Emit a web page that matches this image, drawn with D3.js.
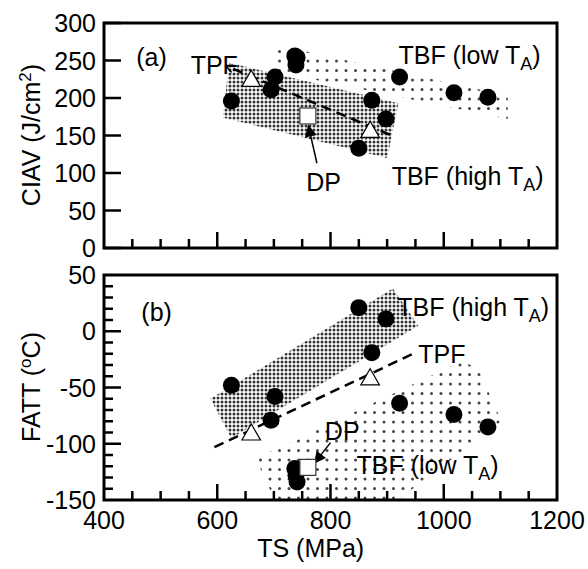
<!DOCTYPE html>
<html>
<head>
<meta charset="utf-8">
<script src="https://cdn.jsdelivr.net/npm/d3@7"></script>
<style>
  body { margin: 0; background: #fff; }
  svg { display: block; font-family: "Liberation Sans", Arial, Helvetica, sans-serif; }
</style>
</head>
<body>
<script>
// data
const ts = [625, 702, 695, 737, 741, 739, 850, 873, 898, 922, 1018, 1078]
const ciav = [196, 228, 211, 256, 254, 244, 133, 197, 172, 228, 207, 201]
const fatt = [-48, -58, -79, -122, -134, -128, 21, -19, 11, -64, -74, -85]

const tsTPF = [660, 870]
const ciavTPF = [224, 156]
const fattTPF = [-91, -42]

const tsDP = [760]
const ciavDP = [176]
const fattDP = [-121]

// shaded bands (TS, value)
const bandHighA = [[621, 247], [920, 193], [900, 120], [610, 174]]
const bandLowA = [[703, 271], [1113, 203], [1113, 172], [703, 235]]
const bandHighB = [[588, -60], [910, 38], [955, 5], [625, -95]]
const bandLowB = [[668, -113], [1030, -27], [1060, -32], [1080, -55], [1102, -80], [880, -165], [715, -165]]

// trend lines
const lineA = [[905, 151], [615, 243]]
const lineB = [[595, -103], [946, -20]]

const xTicks = [400, 600, 800, 1000, 1200]
const yTicksA = [0, 50, 100, 150, 200, 250, 300]
const yTicksB = [-150, -100, -50, 0, 50]

const width = 588
const height = 569
const left = 104, right = 557

const svg = d3.select("body").append("svg")
  .attr("width", width)
  .attr("height", height)

const defs = svg.append("defs")

// dense dot pattern
const pd = defs.append("pattern")
  .attr("id", "dense")
  .attr("patternUnits", "userSpaceOnUse")
  .attr("width", 4).attr("height", 4)
pd.append("rect").attr("width", 4).attr("height", 4).attr("fill", "#fff")
pd.append("circle").attr("cx", 2).attr("cy", 2).attr("r", 1.5).attr("fill", "#333")

// sparse dot pattern
const ps = defs.append("pattern")
  .attr("id", "sparse")
  .attr("patternUnits", "userSpaceOnUse")
  .attr("width", 19).attr("height", 19)
ps.append("circle").attr("cx", 4).attr("cy", 4).attr("r", 1.5).attr("fill", "#444")
ps.append("circle").attr("cx", 13.5).attr("cy", 13.5).attr("r", 1.5).attr("fill", "#444")
ps.append("circle").attr("cx", 13.5).attr("cy", 4).attr("r", 1.5).attr("fill", "#444")
ps.append("circle").attr("cx", 4).attr("cy", 13.5).attr("r", 1.5).attr("fill", "#444")

defs.append("marker")
  .attr("id", "head")
  .attr("viewBox", "0 0 10 10")
  .attr("refX", 9).attr("refY", 5)
  .attr("markerWidth", 14).attr("markerHeight", 12)
  .attr("markerUnits", "userSpaceOnUse")
  .attr("orient", "auto")
  .append("path").attr("d", "M0,0L10,5L0,10Z").attr("fill", "#000")

defs.append("marker")
  .attr("id", "open")
  .attr("viewBox", "0 0 10 10")
  .attr("refX", 10).attr("refY", 5)
  .attr("markerWidth", 8).attr("markerHeight", 8)
  .attr("markerUnits", "userSpaceOnUse")
  .attr("orient", "auto")
  .append("path").attr("d", "M0,0L10,5L0,10").attr("fill", "none")
  .attr("stroke", "#000").attr("stroke-width", 2)

const x = d3.scaleLinear().domain([400, 1200]).range([left, right])

function label(g, tx, ty, parts, anchor) {
  const t = g.append("text")
    .attr("x", tx).attr("y", ty)
    .attr("font-size", 25)
    .attr("text-anchor", anchor || "start")
  parts.forEach(p => {
    const s = t.append("tspan").text(p[0])
    if (p[1] === "sub") s.attr("font-size", 18).attr("dy", 6)
    if (p[1] === "back") s.attr("dy", -6)
    if (p[1] === "sup") s.attr("font-size", 17).attr("dy", -9)
    if (p[1] === "down") s.attr("dy", 9)
  })
  return t
}

function panel(cfg) {
  const y = d3.scaleLinear().domain(cfg.domain).range([cfg.bottom, cfg.top])
  const g = svg.append("g")
  const clipId = "clip" + cfg.name
  defs.append("clipPath").attr("id", clipId)
    .append("rect")
    .attr("x", left).attr("y", cfg.top)
    .attr("width", right - left).attr("height", cfg.bottom - cfg.top)

  const plot = g.append("g").attr("clip-path", `url(#${clipId})`)
  const poly = d3.line().x(d => x(d[0])).y(d => y(d[1])).curve(d3.curveLinearClosed)

  plot.append("path").attr("d", poly(cfg.low)).attr("fill", "url(#sparse)")
  plot.append("path").attr("d", poly(cfg.high)).attr("fill", "url(#dense)")

  // ticks
  const ax = g.append("g").attr("stroke", "#000").attr("stroke-width", 2.5)
  d3.range(450, 1200, 50).forEach(v => {
    const len = (v % 200 === 0) ? 16 : 9
    ax.append("line")
      .attr("x1", x(v)).attr("x2", x(v))
      .attr("y1", cfg.bottom).attr("y2", cfg.bottom - len)
  })
  cfg.minor.forEach(v => {
    const len = cfg.majors.includes(v) ? 17 : 9
    ax.append("line")
      .attr("x1", left).attr("x2", left + len)
      .attr("y1", y(v)).attr("y2", y(v))
  })

  g.append("rect")
    .attr("x", left).attr("y", cfg.top)
    .attr("width", right - left).attr("height", cfg.bottom - cfg.top)
    .attr("fill", "none").attr("stroke", "#000").attr("stroke-width", 3)

  // y tick labels
  g.selectAll(".yl").data(cfg.ticks).join("text")
    .attr("x", 96).attr("y", d => y(d)).attr("dy", "0.36em")
    .attr("text-anchor", "end").attr("font-size", 25)
    .text(d => d)

  // trend line
  plot.append("path")
    .attr("d", d3.line().x(d => x(d[0])).y(d => y(d[1]))(cfg.line))
    .attr("fill", "none").attr("stroke", "#000")
    .attr("stroke-width", 2.5).attr("stroke-dasharray", "10,6")
    .attr("marker-end", cfg.name === "a" ? "url(#open)" : null)

  // DP arrow
  g.append("path")
    .attr("d", d3.line().x(d => x(d[0])).y(d => y(d[1]))(cfg.arrow))
    .attr("stroke", "#000").attr("stroke-width", 1.5).attr("fill", "none")
    .attr("marker-end", "url(#head)")

  // points
  g.selectAll(".c").data(ts).join("circle")
    .attr("cx", d => x(d)).attr("cy", (d, i) => y(cfg.vals[i]))
    .attr("r", 8.5).attr("fill", "#000")

  const tri = d3.symbol().type(d3.symbolTriangle).size(150)
  g.selectAll(".t").data(tsTPF).join("path")
    .attr("transform", (d, i) => `translate(${x(d)},${y(cfg.tpf[i]) + 1})`)
    .attr("d", tri)
    .attr("fill", "#fff").attr("stroke", "#000").attr("stroke-width", 1.2)

  g.selectAll(".s").data(tsDP).join("rect")
    .attr("x", d => x(d) - 8).attr("y", (d, i) => y(cfg.dp[i]) - 8)
    .attr("width", 16).attr("height", 16)
    .attr("fill", "#fff").attr("stroke", "#333").attr("stroke-width", 1.2)

  cfg.labels.forEach(l => label(g, x(l[0]), y(l[1]), l[2]))

  return y
}

panel({
  name: "a", domain: [0, 300], top: 23, bottom: 248,
  ticks: yTicksA, minor: yTicksA, majors: yTicksA,
  vals: ciav, tpf: ciavTPF, dp: ciavDP,
  high: bandHighA, low: bandLowA, line: lineA,
  arrow: [[776, 113], [761, 163]],
  labels: [
    [457, 243, [["(a)"]]],
    [553, 232, [["TPF"]]],
    [920, 245, [["TBF (low T"], ["A", "sub"], [")", "back"]]],
    [908, 84, [["TBF (high T"], ["A", "sub"], [")", "back"]]],
    [757, 76, [["DP"]]]
  ]
})

panel({
  name: "b", domain: [-150, 50], top: 275, bottom: 500,
  ticks: yTicksB, minor: d3.range(-140, 50, 10), majors: [-100, -50, 0],
  vals: fatt, tpf: fattTPF, dp: fattDP,
  high: bandHighB, low: bandLowB, line: lineB,
  arrow: [[800, -99], [772, -117]],
  labels: [
    [466, 9, [["(b)"]]],
    [918, 14, [["TBF (high T"], ["A", "sub"], [")", "back"]]],
    [955, -28, [["TPF"]]],
    [790, -97, [["DP"]]],
    [846, -127, [["TBF (low T"], ["A", "sub"], [")", "back"]]]
  ]
})

// x tick labels
svg.selectAll(".xl").data(xTicks).join("text")
  .attr("x", d => x(d)).attr("y", 529)
  .attr("text-anchor", "middle").attr("font-size", 25)
  .text(d => d)

svg.append("text")
  .attr("x", x(765)).attr("y", 557)
  .attr("text-anchor", "middle").attr("font-size", 25)
  .text("TS (MPa)")

label(svg, 0, 0, [["CIAV (J/cm"], ["2", "sup"], [")", "down"]], "middle")
  .attr("transform", "translate(40,135) rotate(-90)")

label(svg, 0, 0, [["FATT ("], ["o", "sup"], ["C)", "down"]], "middle")
  .attr("transform", "translate(40,387) rotate(-90)")
</script>
</body>
</html>
